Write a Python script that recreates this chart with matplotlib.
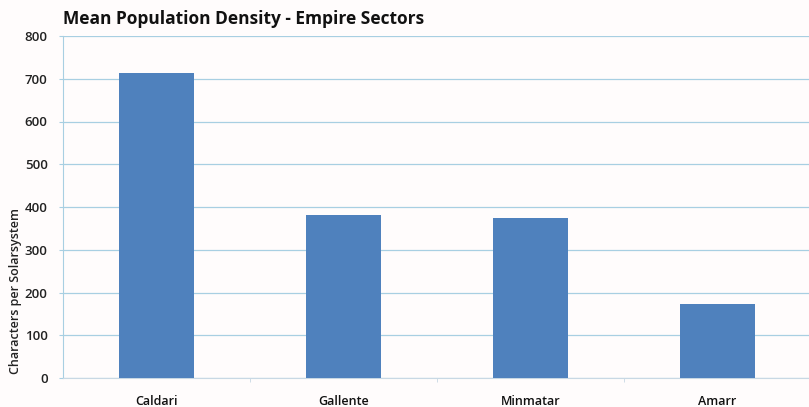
import matplotlib
matplotlib.use("Agg")
import matplotlib.pyplot as plt

categories = ["Caldari", "Gallente", "Minmatar", "Amarr"]
values = [713, 381, 374, 173]
yticks = [0, 100, 200, 300, 400, 500, 600, 700, 800]

plt.rcParams['font.family'] = ['Open Sans', 'DejaVu Sans']

fig = plt.figure(figsize=(8.09, 4.07), dpi=100)
fig.patch.set_facecolor('#fffcfc')
ax = fig.add_axes([63/809, 1 - 378/407, (811-63)/809, (378-36)/407])
ax.set_facecolor('#fffcfc')

x = list(range(len(categories)))
ax.bar(x, values, width=0.4, color='#4f81bd', zorder=3)
ax.set_xlim(-0.5, len(categories) - 0.5)
ax.set_ylim(0, 800)
ax.set_yticks(yticks)
ax.set_yticklabels([str(v) for v in yticks], fontsize=9.5, color='#222222',
                   fontweight='semibold')
ax.set_xticks(x)
ax.set_xticklabels(categories, fontsize=9, color='#111111', fontweight='semibold')
ax.tick_params(axis='x', length=0, pad=12)
ax.tick_params(axis='y', length=3, color='#a8cfe2', pad=8)
ax.set_xticks([i + 0.5 for i in range(len(categories) - 1)], minor=True)
ax.tick_params(axis='x', which='minor', length=3, color='#c8d8e4')

ax.grid(axis='y', color='#a8cfe2', linewidth=0.9, zorder=0)
for s in ['top', 'right']:
    ax.spines[s].set_visible(False)
ax.spines['left'].set_color('#a8cfe2')
ax.spines['bottom'].set_color('#c8d8e4')

fig.text(16/809, 1 - 291/407, "Characters per Solarsystem", rotation=90,
         fontsize=9, fontweight='semibold', color='#222222', ha='center', va='center')
fig.text(63/809, 1 - 19/407, "Mean Population Density - Empire Sectors",
         fontsize=12.5, fontweight='bold', color='#111111', va='center', ha='left')

fig.savefig("out.png", dpi=100, facecolor=fig.get_facecolor())
